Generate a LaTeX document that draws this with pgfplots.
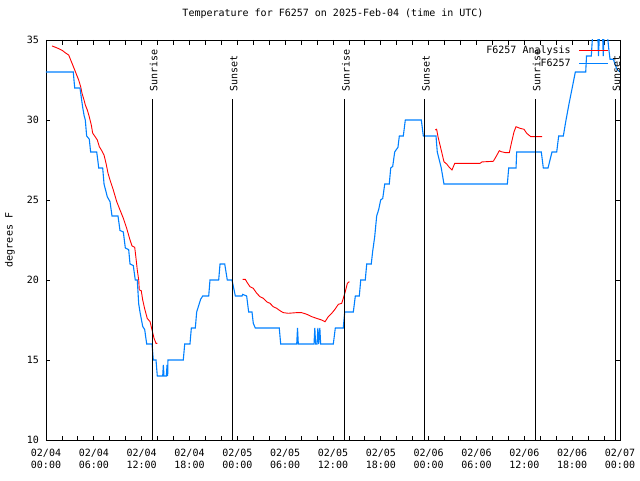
\documentclass[border=0pt]{standalone}
\usepackage{fontspec}
\setmainfont{DejaVu Sans Mono}
\usepackage{pgfplots}
\pgfplotsset{compat=1.18}
\definecolor{obsblue}{RGB}{0,128,255}

\begin{document}
\begin{tikzpicture}[font=\fontsize{10}{12}\selectfont]
\path[use as bounding box] (-46pt,-40pt) rectangle (594pt,440pt);
\begin{axis}[
    at={(0,0)}, anchor=south west,
    scale only axis, width=574pt, height=400pt,
    xmin=0, xmax=72, ymin=10, ymax=35,
    xtick={0,6,...,72},
    xticklabels={{02/04\\00:00},{02/04\\06:00},{02/04\\12:00},{02/04\\18:00},
                 {02/05\\00:00},{02/05\\06:00},{02/05\\12:00},{02/05\\18:00},
                 {02/06\\00:00},{02/06\\06:00},{02/06\\12:00},{02/06\\18:00},
                 {02/07\\00:00}},
    minor x tick num=2,
    ytick={10,15,...,35},
    xticklabel style={align=center, inner sep=0pt, yshift=-9pt},
    yticklabel style={inner sep=0pt, xshift=-7pt},
    /pgf/number format/assume math mode=true,
    tick align=inside,
    tick style={black, line width=0.8pt},
    major tick length=4.5pt, minor tick length=4.5pt,
    axis line style={line width=0.8pt},
    title={Temperature for F6257 on 2025-Feb-04 (time in UTC)},
    title style={at={(0.5,1)}, anchor=center, yshift=20pt},
    unbounded coords=jump,
    legend plot pos=right,
    legend cell align=right,
    legend image code/.code={\path (0pt,0pt); \draw[#1] (7pt,0pt) -- (36pt,0pt);},
    legend style={draw=none, fill=none, at={(1,1)}, anchor=north east,
        xshift=-8pt, yshift=-3pt, row sep=1.5pt,
        nodes={inner sep=1pt}},
]

% F6257 Analysis
\addplot[red, line width=0.9pt] coordinates {
(0.75,34.63)(1.0,34.58)(1.5,34.48)(2.1,34.33)(2.42,34.2)(2.85,34.06)(3.1,33.75)
(3.35,33.44)(3.6,33.13)(3.85,32.81)(4.1,32.5)(4.35,32.08)(4.52,31.67)(4.77,31.25)
(4.93,30.94)(5.18,30.63)(5.43,30.2)(5.68,29.69)(5.86,29.17)(6.11,29.0)(6.44,28.75)
(6.69,28.33)(6.94,28.13)(7.28,27.81)(7.53,27.29)(7.78,26.67)(8.03,26.25)(8.44,25.63)
(8.87,24.9)(9.28,24.38)(9.7,23.86)(10.12,23.23)(10.54,22.5)(10.79,22.13)(11.13,22.04)
(11.29,21.36)(11.45,20.63)(11.63,20.0)(11.7,19.38)(11.95,19.33)(12.13,18.75)
(12.38,18.2)(12.7,17.6)(13.05,17.4)(13.3,16.88)(13.55,16.36)(13.8,16.04)(13.96,16.04)
(14,nan)
(24.67,20.04)(25.0,20.04)(25.25,19.83)(25.59,19.58)(26.0,19.48)(26.43,19.17)
(26.84,18.96)(27.25,18.86)(27.68,18.64)(28.1,18.54)(28.51,18.33)(28.94,18.23)
(29.35,18.08)(29.77,17.96)(30.39,17.92)(31.45,17.96)(32.07,17.96)(32.7,17.86)
(33.33,17.71)(33.96,17.6)(34.58,17.5)(35.0,17.39)(35.41,17.71)(35.84,17.92)
(36.25,18.17)(36.67,18.48)(37.09,18.54)(37.29,18.85)(37.54,19.27)(37.8,19.79)(38.05,19.9)
(40,nan)
(48.83,29.38)(49.0,29.42)(49.17,28.96)(49.42,28.44)(49.67,27.92)(49.92,27.39)
(50.26,27.25)(50.59,27.04)(50.93,26.88)(51.27,27.29)(52.77,27.29)(54.44,27.29)
(54.69,27.38)(56.11,27.42)(56.45,27.71)(56.86,28.08)(57.11,28.02)(57.62,27.96)
(58.12,27.96)(58.37,28.54)(58.71,29.27)(58.96,29.58)(59.46,29.48)(59.96,29.42)
(60.3,29.17)(60.8,28.96)(62.22,28.96)
};
\addlegendentry{F6257 Analysis}

% F6257
\addplot[obsblue, line width=1.1pt] coordinates {
(0,33)(3.42,33)(3.6,32)(4.26,32)(4.43,31.4)(4.6,30.8)(4.77,30.3)(4.93,30)(5.1,29)
(5.43,28.8)(5.6,28)(6.36,28)(6.52,27.4)(6.61,27)(7.11,27)(7.28,26)(7.69,25.2)(8.03,24.9)
(8.28,24)(9.03,24)(9.28,23.1)(9.7,23)(9.95,22)(10.37,21.9)(10.54,21)(10.95,20.9)
(11.2,20)(11.45,20)(11.63,18.5)(11.79,18)(12.13,17.1)(12.38,16.9)(12.63,16)(13.3,16)
(13.46,15)(13.8,15)(13.96,14)(14.64,14)(14.72,14.7)(14.8,14)(15.1,14)(15.18,14.7)
(15.26,14)(15.3,15)(17.22,15)(17.4,16)(18.06,16)(18.23,17)(18.73,17)(18.9,18)
(19.4,18.8)(19.66,19)(20.41,19)(20.57,20)(21.66,20)(21.83,21)(22.42,21)(22.58,20.5)
(22.74,20)(23.33,20)(23.5,19.6)(23.75,19)(24.59,19)(24.67,19.1)(25.17,19)(25.42,18)
(25.84,18)(26,17.3)(26.25,17)(29.26,17)(29.44,16)(31.45,16)(31.55,17)(31.65,16)
(33.62,16)(33.72,17)(33.82,16)(34.0,16)(34.1,17)(34.2,16)(34.35,17)(34.45,16)
(36.04,16)(36.29,17)(37.29,17)(37.47,18)(38.55,18)(38.8,19)(39.3,19)(39.48,20)
(40.05,20)(40.23,21)(40.8,21)(40.98,21.8)(41.23,22.7)(41.48,24)(41.73,24.4)(41.98,25)
(42.24,25.1)(42.49,26)(43.06,26)(43.24,27)(43.49,27.1)(43.74,28)(44.15,28.3)(44.32,29)
(44.82,29)(45.07,30)(47.08,30)(47.33,29)(48.92,29)(49.08,28)(49.58,27)(49.92,26)
(57.87,26)(58.04,27)(58.96,27)(59.04,28)(62.13,28)(62.38,27)(62.97,27)(63.47,28)
(64.06,28)(64.31,29)(64.89,29)(65.23,30)(65.6,31)(66.0,32)(66.4,33)(67.7,33)
(67.8,34)(68.4,34)(68.6,35.6)(69.2,35.6)(69.3,34)(69.45,35.6)
(69.8,35.6)(69.9,34)(70.03,35.6)(70.37,35.6)(70.58,34.5)(70.75,33.8)(71.16,33.8)
(71.58,33.2)(72,33)
};
\addlegendentry{F6257}

% sunrise / sunset markers
\addplot[black, line width=1.1pt, forget plot] coordinates {(13.33,10)(13.33,31.3)};
\addplot[black, line width=1.1pt, forget plot] coordinates {(23.37,10)(23.37,31.3)};
\addplot[black, line width=1.1pt, forget plot] coordinates {(37.45,10)(37.45,31.3)};
\addplot[black, line width=1.1pt, forget plot] coordinates {(47.5,10)(47.5,31.3)};
\addplot[black, line width=1.1pt, forget plot] coordinates {(61.38,10)(61.38,31.3)};
\addplot[black, line width=1.1pt, forget plot] coordinates {(71.4,10)(71.4,31.3)};

\node[rotate=90, anchor=west, inner sep=0pt] at (axis cs:13.5,31.75) {Sunrise};
\node[rotate=90, anchor=west, inner sep=0pt] at (axis cs:23.54,31.75) {Sunset};
\node[rotate=90, anchor=west, inner sep=0pt] at (axis cs:37.62,31.75) {Sunrise};
\node[rotate=90, anchor=west, inner sep=0pt] at (axis cs:47.67,31.75) {Sunset};
\node[rotate=90, anchor=west, inner sep=0pt] at (axis cs:61.55,31.75) {Sunrise};
\node[rotate=90, anchor=west, inner sep=0pt] at (axis cs:71.57,31.75) {Sunset};
\end{axis}
\node[rotate=90] at (-36pt,200pt) {degrees F};
\end{tikzpicture}
\end{document}
